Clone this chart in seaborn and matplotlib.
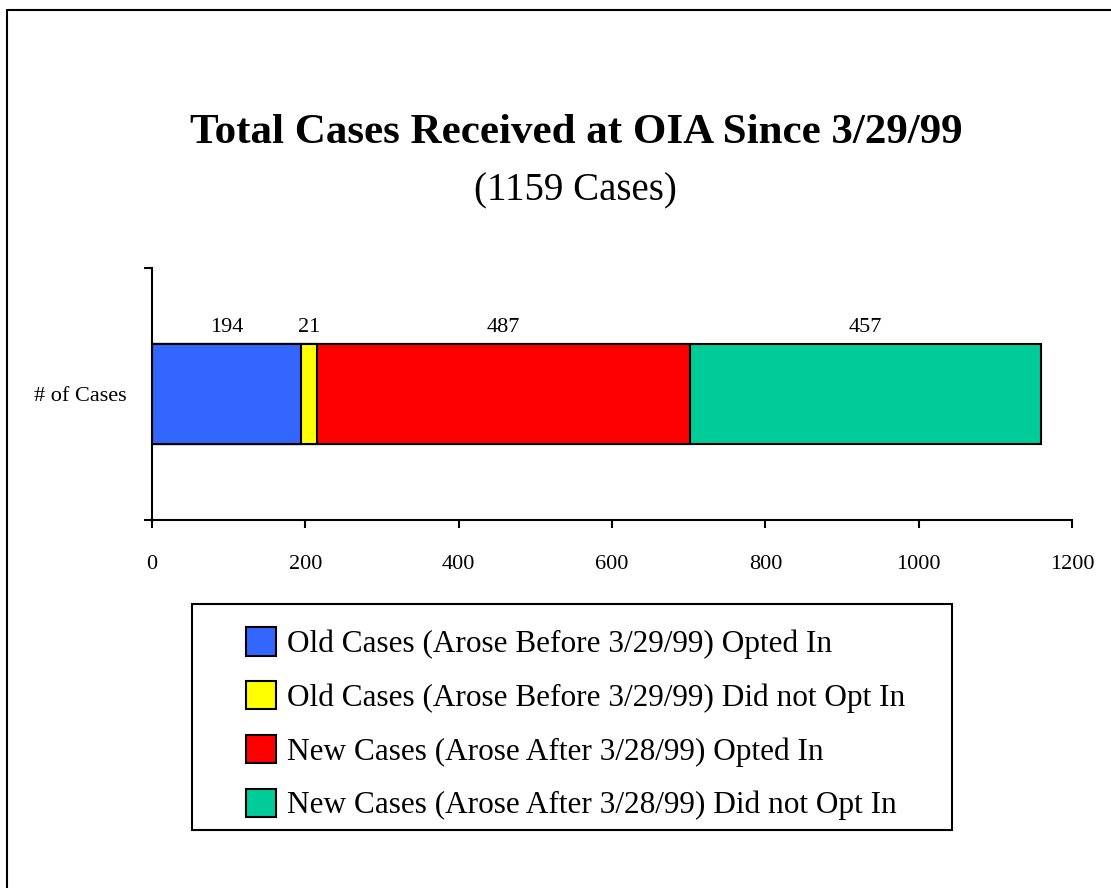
import numpy as np
import pandas as pd
import matplotlib
matplotlib.use("Agg")
import matplotlib.pyplot as plt
from matplotlib.patches import Rectangle, Patch
from matplotlib.lines import Line2D
import seaborn as sns

# chart values
categories = ["Old Cases (Arose Before 3/29/99) Opted In",
              "Old Cases (Arose Before 3/29/99) Did not Opt In",
              "New Cases (Arose After 3/28/99) Opted In",
              "New Cases (Arose After 3/28/99) Did not Opt In"]
counts = [194, 21, 487, 457]
colors = ["#3366FF", "#FFFF00", "#FF0000", "#00CC99"]
row_label = "# of Cases"
x_ticks = [0, 200, 400, 600, 800, 1000, 1200]

sns.set_theme(style="white")
plt.rcParams["font.family"] = ["Liberation Serif", "DejaVu Serif"]
plt.rcParams["text.color"] = "black"
plt.rcParams["xtick.labelcolor"] = "black"
plt.rcParams["ytick.labelcolor"] = "black"

fig = plt.figure(figsize=(11.11, 8.88), dpi=100)
ax = fig.add_axes([152 / 1111, 1 - 520 / 888, 920 / 1111, 252 / 888])

# stacked bar: draw cumulative totals from the largest down so each segment shows
cum = np.cumsum(counts)
for i in range(len(counts) - 1, -1, -1):
    df = pd.DataFrame({"cases": [cum[i]], "row": [row_label]})
    sns.barplot(data=df, x="cases", y="row", orient="h", color=colors[i],
                saturation=1, edgecolor="black", linewidth=1.5, width=0.8, ax=ax)

# value labels above each segment
starts = cum - np.array(counts)
for s, v in zip(starts, counts):
    ax.text(s + v / 2, -0.53, str(v), ha="center", va="center", fontsize=16)

ax.set_xlim(0, 1200)
ax.set_ylim(1, -1)
ax.set_xticks(x_ticks)
ax.set_xticklabels([str(t) for t in x_ticks], fontsize=16)
ax.set_yticks([0])
ax.set_yticklabels([row_label], fontsize=16)
ax.set_yticks([-1, 1], minor=True)
ax.tick_params(axis="y", which="major", length=0, pad=18)
ax.tick_params(axis="y", which="minor", left=True, length=6, width=1.5, direction="out", color="black")
ax.tick_params(axis="x", which="major", bottom=True, length=6, width=1.5, direction="out", color="black", pad=19)
ax.set_xlabel("")
ax.set_ylabel("")
for side in ["top", "right"]:
    ax.spines[side].set_visible(False)
for side in ["left", "bottom"]:
    ax.spines[side].set_color("black")
    ax.spines[side].set_linewidth(1.5)

# titles
fig.text(576 / 1111, 1 - 143 / 888, "Total Cases Received at OIA Since 3/29/99",
         ha="center", va="baseline", fontsize=31, fontweight="bold")
fig.text(575 / 1111, 1 - 200 / 888, "(1159 Cases)", ha="center", va="baseline", fontsize=28)

# legend with its own frame
fig.add_artist(Rectangle((192 / 1111, 1 - 830 / 888), 760 / 1111, 226 / 888,
                         transform=fig.transFigure, fill=False, edgecolor="black", linewidth=1.5))
handles = [Patch(facecolor=c, edgecolor="black", linewidth=1.5) for c in colors]
fig.legend(handles, categories, loc="upper left", bbox_to_anchor=(246 / 1111, 1 - 627 / 888),
           frameon=False, fontsize=22.5, handlelength=0.97, handleheight=1.03,
           handletextpad=0.35, labelspacing=0.7, borderpad=0, borderaxespad=0)

# page border (left and top edges)
fig.add_artist(Line2D([7 / 1111, 7 / 1111], [0, 1 - 10 / 888], transform=fig.transFigure,
                      color="black", linewidth=1.5))
fig.add_artist(Line2D([7 / 1111, 1], [1 - 10 / 888, 1 - 10 / 888], transform=fig.transFigure,
                      color="black", linewidth=1.5))

fig.savefig("out.png", dpi=100)
